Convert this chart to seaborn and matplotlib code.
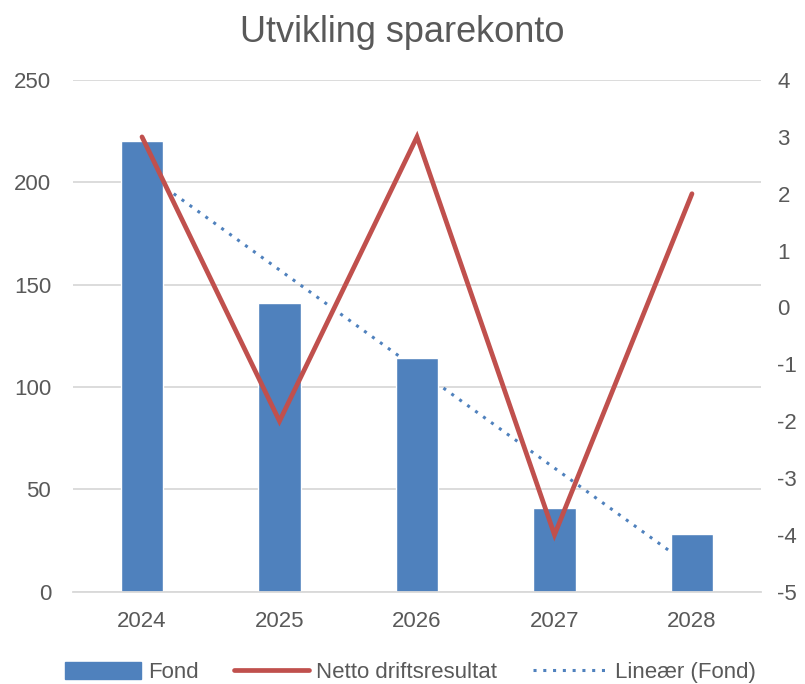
import numpy as np
import pandas as pd
import seaborn as sns
import matplotlib.pyplot as plt
from matplotlib.lines import Line2D
from matplotlib.patches import Patch

years = ["2024", "2025", "2026", "2027", "2028"]
fond = [220, 141, 114, 41, 28]
netto = [3, -2, 3, -4, 2]

BLUE = "#4F81BD"
RED = "#C0504D"
GREY = "#595959"
GRID = "#D9D9D9"

sns.set_theme(style="white")
plt.rcParams["font.family"] = ["Liberation Sans", "DejaVu Sans"]
plt.rcParams["axes.unicode_minus"] = False

df = pd.DataFrame({"year": years, "fond": fond, "netto": netto})
xpos = np.arange(len(years))

fig, ax = plt.subplots(figsize=(8.05, 6.84), dpi=100)
fig.subplots_adjust(left=0.091, right=0.945, top=0.883, bottom=0.135)

# linear trend of Fond, drawn behind the bars
slope, icpt = np.polyfit(xpos, fond, 1)
ax.plot(xpos, slope * xpos + icpt, color=BLUE, lw=2.2, ls=(0, (1, 2.2)),
        zorder=1)

sns.barplot(data=df, x="year", y="fond", color=BLUE, width=0.31,
            saturation=1, ax=ax, zorder=2)

ax.set_ylim(0, 250)
ax.set_yticks(range(0, 251, 50))
ax.set_xlim(-0.5, 4.5)
ax.yaxis.grid(True, color=GRID, lw=1.3)
ax.set_axisbelow(True)
for s in ["top", "right", "left"]:
    ax.spines[s].set_visible(False)
ax.spines["bottom"].set_color(GRID)
ax.spines["bottom"].set_linewidth(1.3)
ax.tick_params(axis="both", length=0, labelsize=16, labelcolor=GREY)
ax.tick_params(axis="x", pad=14)
ax.tick_params(axis="y", pad=16)
ax.set_xlabel("")
ax.set_ylabel("")

ax2 = ax.twinx()
sns.lineplot(x=xpos, y=netto, color=RED, lw=3.4, ax=ax2, legend=False)
ax2.lines[-1].set_solid_capstyle("round")
ax2.lines[-1].set_solid_joinstyle("miter")
ax2.set_ylim(-5, 4)
ax2.set_yticks(range(-5, 5))
ax2.set_xlim(-0.5, 4.5)
for s in ["top", "right", "left", "bottom"]:
    ax2.spines[s].set_visible(False)
ax2.tick_params(axis="y", length=0, labelsize=16, labelcolor=GREY, pad=12)
ax2.set_ylabel("")

fig.suptitle("Utvikling sparekonto", fontsize=26, color=GREY, y=0.978)

handles = [
    Patch(facecolor=BLUE, edgecolor=BLUE),
    Line2D([0], [0], color=RED, lw=3.4, solid_capstyle="round"),
    Line2D([0], [0], color=BLUE, lw=2.2, ls=(0, (1, 2.2))),
]
labels = ["Fond", "Netto driftsresultat", "Lineær (Fond)"]
fig.legend(handles, labels, loc="lower center", ncol=3, frameon=False,
           fontsize=16, labelcolor=GREY, bbox_to_anchor=(0.51, -0.028),
           handlelength=3.4, handleheight=0.8, columnspacing=1.6,
           handletextpad=0.3)

fig.savefig("out.png", dpi=100)
